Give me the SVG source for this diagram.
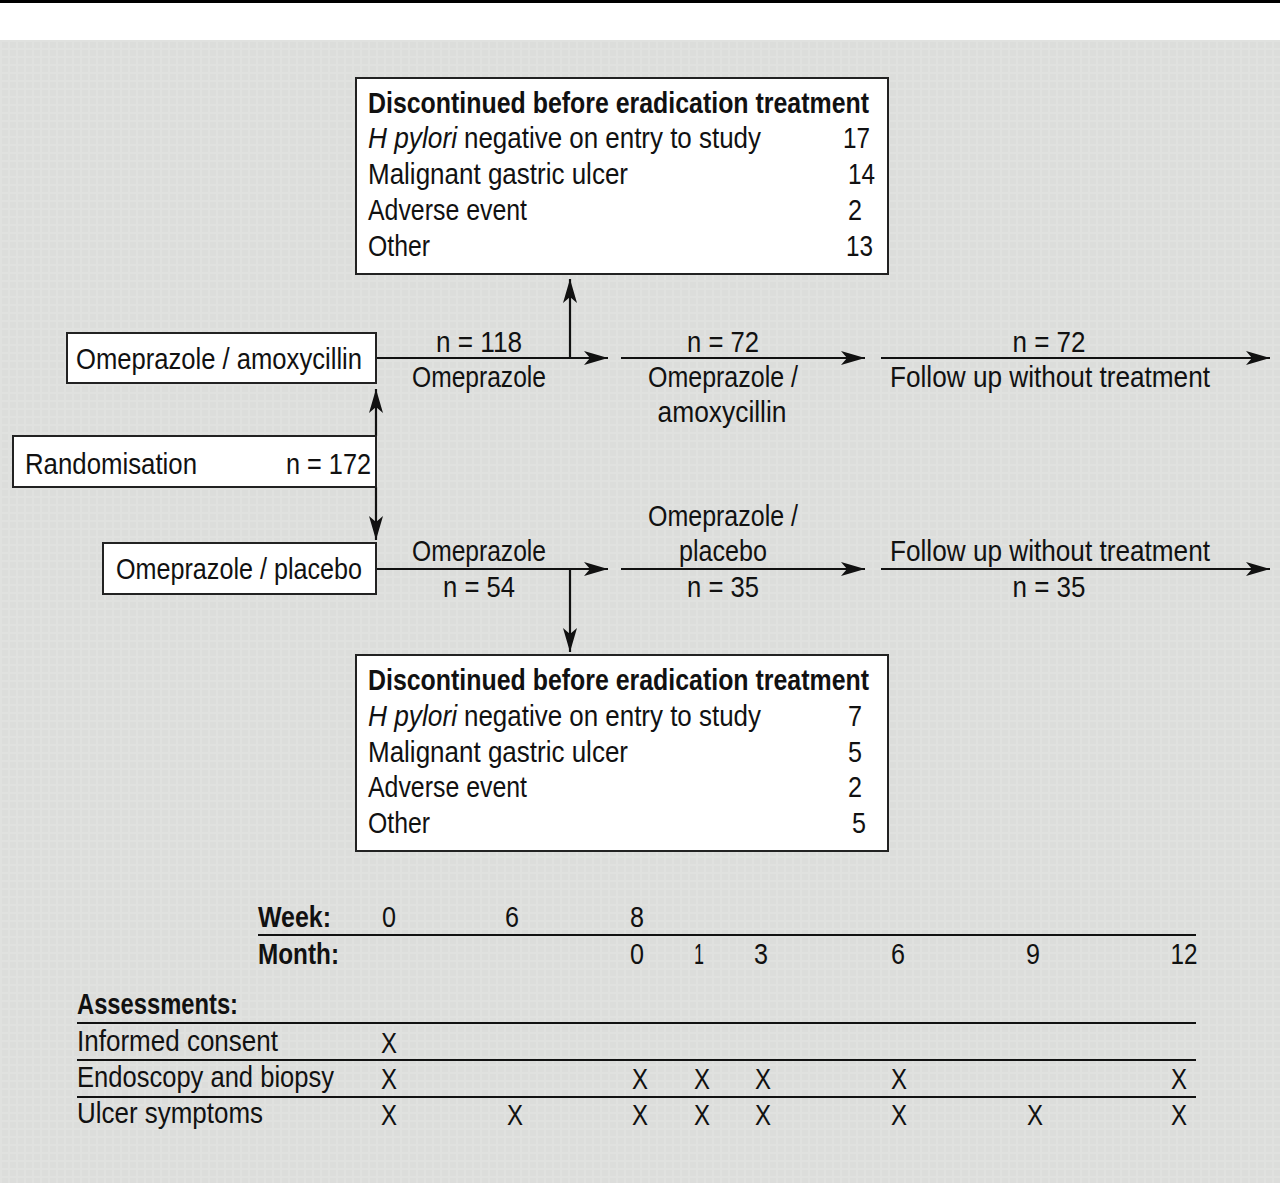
<svg xmlns="http://www.w3.org/2000/svg" width="1280" height="1183" viewBox="0 0 1280 1183">
<defs>
<pattern id="grid" width="8" height="8" patternUnits="userSpaceOnUse">
<rect width="8" height="8" fill="#dcdddb"/>
<rect x="0" y="0" width="8" height="2" fill="#e0e1df"/>
<rect x="0" y="0" width="2" height="8" fill="#e0e1df"/>
</pattern>
<marker id="ah" markerUnits="userSpaceOnUse" markerWidth="26" markerHeight="16" refX="24" refY="7" orient="auto">
<path d="M0,0 L24,7 L0,14 L6,7 Z" fill="#111"/>
</marker>
</defs>
<style>
.t{font-family:"Liberation Sans",Arial,sans-serif;font-size:29px;fill:#111}
.b{font-weight:bold}
.i{font-style:italic}
.m{text-anchor:middle}
.e{text-anchor:end}
.box{fill:#fff;stroke:#222;stroke-width:2}
.ln{stroke:#111;stroke-width:2.2;fill:none}
</style>
<rect x="0" y="0" width="1280" height="1183" fill="#fff"/>
<rect x="0" y="0" width="1280" height="3" fill="#000"/>
<rect x="0" y="40" width="1280" height="1143" fill="url(#grid)"/>

<g id="connectors">
<path class="ln" d="M376,436 L376,389" marker-end="url(#ah)"/>
<path class="ln" d="M376,487 L376,540" marker-end="url(#ah)"/>
<path class="ln" d="M376,358 L608,358" marker-end="url(#ah)"/>
<path class="ln" d="M570,358 L570,279" marker-end="url(#ah)"/>
<path class="ln" d="M621,358 L865,358" marker-end="url(#ah)"/>
<path class="ln" d="M881,358 L1270,358" marker-end="url(#ah)"/>
<path class="ln" d="M376,569 L608,569" marker-end="url(#ah)"/>
<path class="ln" d="M570,569 L570,652" marker-end="url(#ah)"/>
<path class="ln" d="M621,569 L865,569" marker-end="url(#ah)"/>
<path class="ln" d="M881,569 L1270,569" marker-end="url(#ah)"/>
</g>

<g id="labels">
<text class="t m" x="479" y="352" textLength="86" lengthAdjust="spacingAndGlyphs">n = 118</text>
<text class="t m" x="479" y="387" textLength="134" lengthAdjust="spacingAndGlyphs">Omeprazole</text>
<text class="t m" x="723" y="352" textLength="72" lengthAdjust="spacingAndGlyphs">n = 72</text>
<text class="t m" x="723" y="387" textLength="150" lengthAdjust="spacingAndGlyphs">Omeprazole /</text>
<text class="t m" x="722" y="422" textLength="129" lengthAdjust="spacingAndGlyphs">amoxycillin</text>
<text class="t m" x="1049" y="352" textLength="73" lengthAdjust="spacingAndGlyphs">n = 72</text>
<text class="t m" x="1050" y="387" textLength="320" lengthAdjust="spacingAndGlyphs">Follow up without treatment</text>
<text class="t m" x="723" y="526" textLength="150" lengthAdjust="spacingAndGlyphs">Omeprazole /</text>
<text class="t m" x="479" y="561" textLength="134" lengthAdjust="spacingAndGlyphs">Omeprazole</text>
<text class="t m" x="723" y="561" textLength="88" lengthAdjust="spacingAndGlyphs">placebo</text>
<text class="t m" x="1050" y="561" textLength="320" lengthAdjust="spacingAndGlyphs">Follow up without treatment</text>
<text class="t m" x="479" y="597" textLength="72" lengthAdjust="spacingAndGlyphs">n = 54</text>
<text class="t m" x="723" y="597" textLength="72" lengthAdjust="spacingAndGlyphs">n = 35</text>
<text class="t m" x="1049" y="597" textLength="73" lengthAdjust="spacingAndGlyphs">n = 35</text>
</g>

<g id="node-amox">
<rect class="box" x="67" y="333" width="309" height="50"/>
<text class="t" x="76" y="369" textLength="286" lengthAdjust="spacingAndGlyphs">Omeprazole / amoxycillin</text>
</g>
<g id="node-random">
<rect class="box" x="13" y="436" width="363" height="51"/>
<text class="t" x="25" y="474" textLength="172" lengthAdjust="spacingAndGlyphs">Randomisation</text>
<text class="t" x="286" y="474" textLength="85" lengthAdjust="spacingAndGlyphs">n = 172</text>
</g>
<g id="node-placebo">
<rect class="box" x="103" y="543" width="273" height="51"/>
<text class="t" x="116" y="579" textLength="246" lengthAdjust="spacingAndGlyphs">Omeprazole / placebo</text>
</g>

<g id="node-disc-top">
<rect class="box" x="356" y="78" width="532" height="196"/>
<text class="t b" x="368" y="113" textLength="501" lengthAdjust="spacingAndGlyphs">Discontinued before eradication treatment</text>
<text class="t i" x="368" y="148" textLength="89" lengthAdjust="spacingAndGlyphs">H pylori</text>
<text class="t" x="464" y="148" textLength="297" lengthAdjust="spacingAndGlyphs">negative on entry to study</text>
<text class="t" x="368" y="184" textLength="260" lengthAdjust="spacingAndGlyphs">Malignant gastric ulcer</text>
<text class="t" x="368" y="220" textLength="159" lengthAdjust="spacingAndGlyphs">Adverse event</text>
<text class="t" x="368" y="256" textLength="62" lengthAdjust="spacingAndGlyphs">Other</text>
<text class="t e" x="870" y="148" textLength="27" lengthAdjust="spacingAndGlyphs">17</text>
<text class="t e" x="875" y="184" textLength="27" lengthAdjust="spacingAndGlyphs">14</text>
<text class="t e" x="862" y="220" textLength="14" lengthAdjust="spacingAndGlyphs">2</text>
<text class="t e" x="873" y="256" textLength="27" lengthAdjust="spacingAndGlyphs">13</text>
</g>

<g id="node-disc-bottom">
<rect class="box" x="356" y="655" width="532" height="196"/>
<text class="t b" x="368" y="690" textLength="501" lengthAdjust="spacingAndGlyphs">Discontinued before eradication treatment</text>
<text class="t i" x="368" y="726" textLength="89" lengthAdjust="spacingAndGlyphs">H pylori</text>
<text class="t" x="464" y="726" textLength="297" lengthAdjust="spacingAndGlyphs">negative on entry to study</text>
<text class="t" x="368" y="762" textLength="260" lengthAdjust="spacingAndGlyphs">Malignant gastric ulcer</text>
<text class="t" x="368" y="797" textLength="159" lengthAdjust="spacingAndGlyphs">Adverse event</text>
<text class="t" x="368" y="833" textLength="62" lengthAdjust="spacingAndGlyphs">Other</text>
<text class="t e" x="862" y="726" textLength="14" lengthAdjust="spacingAndGlyphs">7</text>
<text class="t e" x="862" y="762" textLength="14" lengthAdjust="spacingAndGlyphs">5</text>
<text class="t e" x="862" y="797" textLength="14" lengthAdjust="spacingAndGlyphs">2</text>
<text class="t e" x="866" y="833" textLength="14" lengthAdjust="spacingAndGlyphs">5</text>
</g>

<g id="schedule">
<text class="t b" x="258" y="927" textLength="73" lengthAdjust="spacingAndGlyphs">Week:</text>
<text class="t m" x="389" y="927" textLength="14" lengthAdjust="spacingAndGlyphs">0</text>
<text class="t m" x="512" y="927" textLength="14" lengthAdjust="spacingAndGlyphs">6</text>
<text class="t m" x="637" y="927" textLength="14" lengthAdjust="spacingAndGlyphs">8</text>
<line class="ln" x1="258" y1="935" x2="1196" y2="935"/>
<text class="t b" x="258" y="964" textLength="81" lengthAdjust="spacingAndGlyphs">Month:</text>
<text class="t m" x="637" y="964" textLength="14" lengthAdjust="spacingAndGlyphs">0</text>
<text class="t m" x="699" y="964" textLength="10" lengthAdjust="spacingAndGlyphs">1</text>
<text class="t m" x="761" y="964" textLength="14" lengthAdjust="spacingAndGlyphs">3</text>
<text class="t m" x="898" y="964" textLength="14" lengthAdjust="spacingAndGlyphs">6</text>
<text class="t m" x="1033" y="964" textLength="14" lengthAdjust="spacingAndGlyphs">9</text>
<text class="t m" x="1184" y="964" textLength="27" lengthAdjust="spacingAndGlyphs">12</text>
<text class="t b" x="77" y="1014" textLength="161" lengthAdjust="spacingAndGlyphs">Assessments:</text>
<line class="ln" x1="77" y1="1023" x2="1196" y2="1023"/>
<text class="t" x="77" y="1051" textLength="201" lengthAdjust="spacingAndGlyphs">Informed consent</text>
<text class="t m" x="389" y="1053" textLength="16" lengthAdjust="spacingAndGlyphs">X</text>
<line class="ln" x1="77" y1="1060" x2="1196" y2="1060"/>
<text class="t" x="77" y="1087" textLength="257" lengthAdjust="spacingAndGlyphs">Endoscopy and biopsy</text>
<text class="t m" x="389" y="1089" textLength="16" lengthAdjust="spacingAndGlyphs">X</text>
<text class="t m" x="640" y="1089" textLength="16" lengthAdjust="spacingAndGlyphs">X</text>
<text class="t m" x="702" y="1089" textLength="16" lengthAdjust="spacingAndGlyphs">X</text>
<text class="t m" x="763" y="1089" textLength="16" lengthAdjust="spacingAndGlyphs">X</text>
<text class="t m" x="899" y="1089" textLength="16" lengthAdjust="spacingAndGlyphs">X</text>
<text class="t m" x="1179" y="1089" textLength="16" lengthAdjust="spacingAndGlyphs">X</text>
<line class="ln" x1="77" y1="1097" x2="1196" y2="1097"/>
<text class="t" x="77" y="1123" textLength="186" lengthAdjust="spacingAndGlyphs">Ulcer symptoms</text>
<text class="t m" x="389" y="1125" textLength="16" lengthAdjust="spacingAndGlyphs">X</text>
<text class="t m" x="515" y="1125" textLength="16" lengthAdjust="spacingAndGlyphs">X</text>
<text class="t m" x="640" y="1125" textLength="16" lengthAdjust="spacingAndGlyphs">X</text>
<text class="t m" x="702" y="1125" textLength="16" lengthAdjust="spacingAndGlyphs">X</text>
<text class="t m" x="763" y="1125" textLength="16" lengthAdjust="spacingAndGlyphs">X</text>
<text class="t m" x="899" y="1125" textLength="16" lengthAdjust="spacingAndGlyphs">X</text>
<text class="t m" x="1035" y="1125" textLength="16" lengthAdjust="spacingAndGlyphs">X</text>
<text class="t m" x="1179" y="1125" textLength="16" lengthAdjust="spacingAndGlyphs">X</text>
</g>
</svg>
